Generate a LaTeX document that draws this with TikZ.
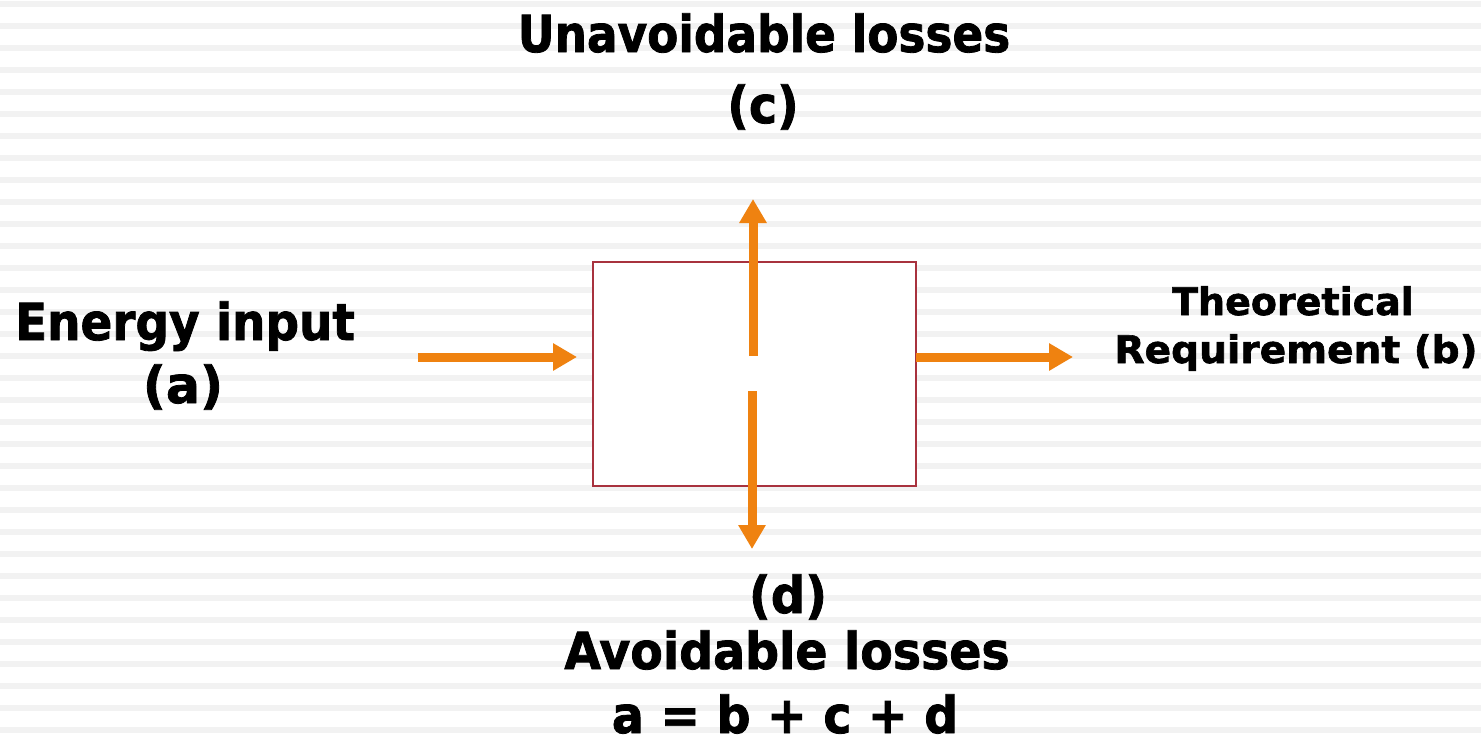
\documentclass[tikz,border=0pt]{standalone}
\usepackage{fontspec}
\setmainfont{DejaVu Sans}[BoldFeatures={FakeBold=1.6}]
\usetikzlibrary{arrows.meta}
\definecolor{stripe}{HTML}{F2F2F2}
\definecolor{flow}{HTML}{EF8210}
\definecolor{boxred}{HTML}{A8323E}
\newcommand{\lbl}[3]{\fontsize{#1}{#1}\selectfont\bfseries\scalebox{#2}[1]{#3}}
\begin{document}
\begin{tikzpicture}[x=1pt,y=-1pt,
  flowarrow/.style={draw=flow, line width=9pt, -{Triangle[width=26pt,length=24pt]}},
  lab/.style={anchor=base, inner sep=0pt, text=black},
  process/.style={draw=boxred, fill=white, line width=1.5pt, minimum width=323pt, minimum height=224pt, inner sep=0pt}]
\useasboundingbox (0,0) rectangle (1481,744);
\fill[white] (0,0) rectangle (1481,744);
\foreach \i in {0,...,33} \fill[stripe] (0,{1+22*\i}) rectangle (1481,{6.7+22*\i});

\node[process] (box) at (754.5,374) {};

\coordinate (inS) at (418,357);
\coordinate (inE) at (577,357);
\coordinate (outS) at (916,357);
\coordinate (outE) at (1073,357);
\coordinate (upS) at (753,356);
\coordinate (upE) at (753,199);
\coordinate (dnS) at (752,391);
\coordinate (dnE) at (752,549);

\draw[flowarrow] (inS) -- (inE);
\draw[flowarrow] (outS) -- (outE);
\draw[flowarrow] (upS) -- (upE);
\draw[flowarrow] (dnS) -- (dnE);

\node[lab] (c1) at (764,52) {\lbl{51}{0.89}{Unavoidable losses}};
\node[lab] (c2) at (763,123) {\lbl{51}{0.93}{(c)}};
\node[lab] (a1) at (185,340) {\lbl{51}{0.92}{Energy input}};
\node[lab] (a2) at (183,403) {\lbl{51}{0.99}{(a)}};
\node[lab] (b1) at (1293,315) {\lbl{38}{1.0}{Theoretical}};
\node[lab] (b2) at (1296,363) {\lbl{38}{1.03}{Requirement (b)}};
\node[lab] (d1) at (788,613) {\lbl{51}{0.94}{(d)}};
\node[lab] (d2) at (787,669) {\lbl{51}{0.93}{Avoidable losses}};
\node[lab] (eq) at (785,733) {\lbl{51}{0.93}{a = b + c + d}};
\end{tikzpicture}
\end{document}
